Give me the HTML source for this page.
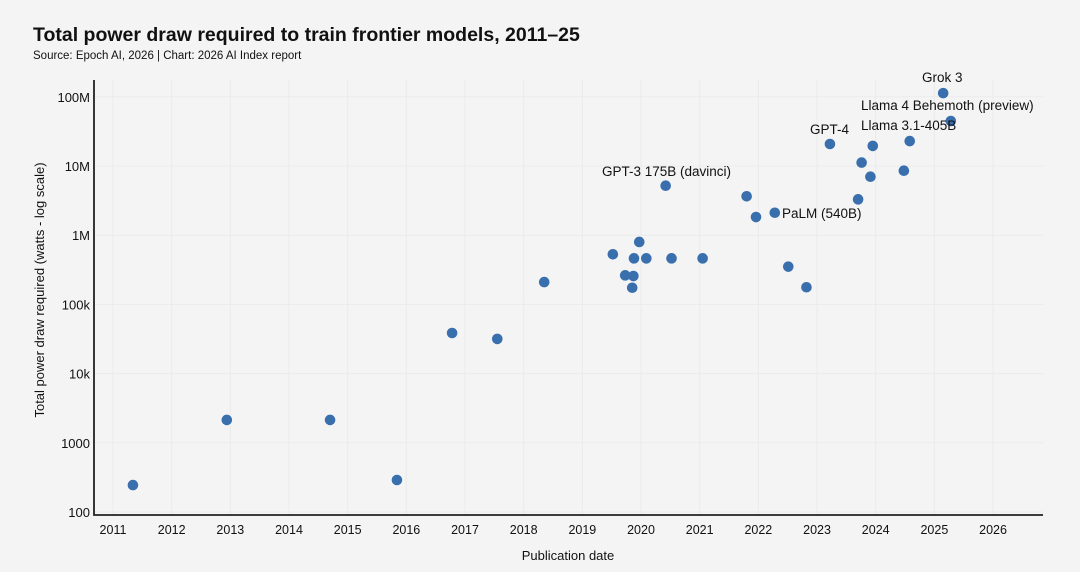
<!DOCTYPE html>
<html><head><meta charset="utf-8"><style>
body{margin:0;background:#f4f4f4;font-family:"Liberation Sans",sans-serif;}
svg{display:block}
</style></head><body>
<svg id="chart" width="1080" height="572">
<rect width="1080" height="572" fill="#f4f4f4"/>
<text x="33" y="41" font-size="19.5" font-weight="bold" fill="#111">Total power draw required to train frontier models, 2011–25</text>
<text x="33" y="59" font-size="11.5" fill="#111">Source: Epoch AI, 2026 | Chart: 2026 AI Index report</text>
<g id="grid"></g><g id="axes"></g><g id="pts"></g><g id="labels"></g>
<text transform="translate(44,290) rotate(-90)" text-anchor="middle" font-size="13" fill="#111">Total power draw required (watts - log scale)</text>
<text x="568" y="560" text-anchor="middle" font-size="13" fill="#111">Publication date</text>
</svg>
<script>
const years=[2011.34,2012.94,2014.70,2015.84,2016.78,2017.55,2018.35,2019.52,2019.88,2020.09,2020.52,2021.05,2019.97,2019.73,2019.87,2019.85,2020.42,2021.80,2021.96,2022.28,2022.51,2022.82,2023.22,2023.70,2023.76,2023.91,2023.95,2024.48,2024.58,2025.15,2025.28];
const watts=[245,2140,2140,290,38600,31700,210000,530000,463000,463000,463000,463000,798000,263000,257000,174000,5.19e6,3.65e6,1.83e6,2.11e6,351000,177000,20.8e6,3.30e6,11.2e6,7.0e6,19.5e6,8.55e6,22.9e6,113e6,44.7e6];
const labelNames=["GPT-3 175B (davinci)","PaLM (540B)","GPT-4","Llama 3.1-405B","Grok 3","Llama 4 Behemoth (preview)"];
const labelIdx=[16,19,22,28,29,30];
const xTicks=[2011,2012,2013,2014,2015,2016,2017,2018,2019,2020,2021,2022,2023,2024,2025,2026];
const yTicks=[100,1000,1e4,1e5,1e6,1e7,1e8];
const yTickLabels=["100","1000","10k","100k","1M","10M","100M"];
const NS="http://www.w3.org/2000/svg";
const X=y=>113+(y-2011)*58.67;
const Y=v=>512-(Math.log10(v)-2)*69.2;
function mk(t,a,p,txt){const e=document.createElementNS(NS,t);for(const k in a)e.setAttribute(k,a[k]);if(txt!=null)e.textContent=txt;document.getElementById(p).appendChild(e);return e;}
xTicks.forEach(t=>{
 const g=mk('line',{x1:X(t),x2:X(t),y1:80,y2:515,stroke:'#ebebeb','stroke-width':1},'grid');
 
 
 const l=mk('text',{x:X(t),y:534,'text-anchor':'middle','font-size':12.5,fill:'#111'},'axes',String(t));
 
 
});
yTicks.forEach((t,i)=>{
 const g=mk('line',{x1:94,x2:1043,y1:Y(t),y2:Y(t),stroke:'#ebebeb','stroke-width':1},'grid');
 
 
 const l=mk('text',{x:90,y:Y(t)+5,'text-anchor':'end','font-size':13,fill:'#111'},'axes',yTickLabels[i]);
 
 
});
const ax=mk('path',{d:'M94,80 V515 H1043',fill:'none',stroke:'#222','stroke-width':1.8},'axes');


years.forEach((y,i)=>{
 const c=mk('circle',{cx:X(y),cy:Y(watts[i]),r:5.3,fill:'#3a6fae'},'pts');
 
 
});
const labelPos=[[602,176],[782,218],[810,134],[861,130],[922,82],[861,110]];
labelIdx.forEach((idx,k)=>{
 const t=mk('text',{x:labelPos[k][0],y:labelPos[k][1],'font-size':13.5,fill:'#111'},'labels',labelNames[k]);
 
 
});
</script>
</body></html>
